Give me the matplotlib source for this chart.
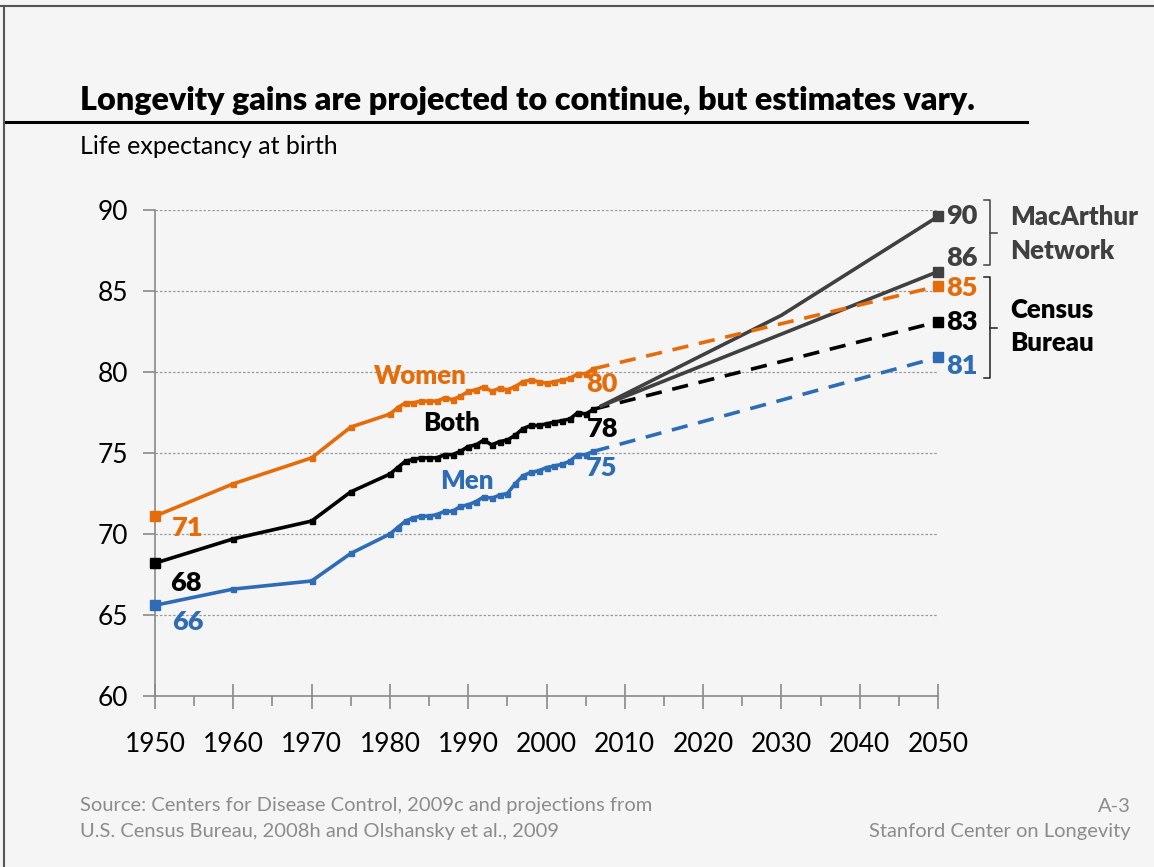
import matplotlib
matplotlib.use("Agg")
import matplotlib.pyplot as plt
from matplotlib.lines import Line2D
from matplotlib.ticker import MultipleLocator

plt.rcParams['font.family'] = ['Lato', 'DejaVu Sans']

# Historical life expectancy at birth (CDC)
years = [1950, 1960, 1970, 1975, 1980, 1981, 1982, 1983, 1984, 1985, 1986, 1987,
         1988, 1989, 1990, 1991, 1992, 1993, 1994, 1995, 1996, 1997, 1998, 1999,
         2000, 2001, 2002, 2003, 2004, 2005, 2006]
women = [71.1, 73.1, 74.7, 76.6, 77.4, 77.8, 78.1, 78.1, 78.2, 78.2, 78.2, 78.4,
         78.3, 78.5, 78.8, 78.9, 79.1, 78.8, 79.0, 78.9, 79.1, 79.4, 79.5, 79.4,
         79.3, 79.4, 79.5, 79.6, 79.9, 79.9, 80.2]
both = [68.2, 69.7, 70.8, 72.6, 73.7, 74.1, 74.5, 74.6, 74.7, 74.7, 74.7, 74.9,
        74.9, 75.1, 75.4, 75.5, 75.8, 75.5, 75.7, 75.8, 76.1, 76.5, 76.7, 76.7,
        76.8, 76.9, 77.0, 77.1, 77.5, 77.4, 77.7]
men = [65.6, 66.6, 67.1, 68.8, 70.0, 70.4, 70.8, 71.0, 71.1, 71.1, 71.2, 71.4,
       71.4, 71.7, 71.8, 72.0, 72.3, 72.2, 72.4, 72.5, 73.1, 73.6, 73.8, 73.9,
       74.1, 74.2, 74.3, 74.5, 74.9, 74.9, 75.1]

# Census Bureau projections
census_years = [2006, 2050]
census_women = [80.2, 85.3]
census_both = [77.7, 83.1]
census_men = [75.1, 80.9]

# MacArthur Network projections
mac_high_years = [2007, 2030, 2050]
mac_high = [77.9, 83.5, 89.6]
mac_low_years = [2007, 2050]
mac_low = [77.9, 86.2]

ORANGE = '#E46C0A'
BLUE = '#2E6CB5'
BLACK = '#000000'
DGRAY = '#404040'
BG = '#F5F5F5'
FOOT = '#8C8C8C'

W, H = 1154, 867
fig = plt.figure(figsize=(W / 100, H / 100), dpi=100, facecolor=BG)

def fx(px):
    return px / W

def fy(py):
    return 1 - py / H

ax = fig.add_axes([fx(155), fy(696), fx(938) - fx(155), fy(210) - fy(696)])
ax.set_facecolor(BG)
ax.set_xlim(1950, 2050)
ax.set_ylim(60, 90)

for s in ('top', 'right'):
    ax.spines[s].set_visible(False)
for s in ('left', 'bottom'):
    ax.spines[s].set_color('#8A8A8A')
    ax.spines[s].set_linewidth(1.2)

ax.set_xticks(range(1950, 2051, 10))
ax.xaxis.set_minor_locator(MultipleLocator(5))
ax.set_yticks(range(60, 91, 5))
ax.tick_params(axis='x', which='major', direction='inout', length=18, width=1.2,
               color='#8A8A8A', labelsize=19, pad=17)
ax.tick_params(axis='x', which='minor', direction='out', length=7, width=1.2,
               color='#8A8A8A')
ax.tick_params(axis='y', which='major', direction='out', length=9, width=1.2,
               color='#8A8A8A', labelsize=19, pad=10)

for v in range(65, 91, 5):
    ax.axhline(v, color='#9A9A9A', lw=0.9, ls=(0, (2, 1.5)), zorder=1)

lw = 2.6
dash = (0, (4.5, 3))

# projections
ax.plot(census_years, census_both, color=BLACK, lw=lw, ls=dash, zorder=3)
ax.plot(mac_high_years, mac_high, color=DGRAY, lw=lw, zorder=4)
ax.plot(mac_low_years, mac_low, color=DGRAY, lw=lw, zorder=4)
ax.plot(census_years, census_women, color=ORANGE, lw=lw, ls=dash, zorder=5)
ax.plot(census_years, census_men, color=BLUE, lw=lw, ls=dash, zorder=5)

# end markers at 2050
for yv, c in ((mac_high[-1], DGRAY), (mac_low[-1], DGRAY), (census_women[-1], ORANGE),
              (census_both[-1], BLACK), (census_men[-1], BLUE)):
    ax.plot([2050], [yv], marker='s', ms=6.5, color=c, ls='none', zorder=6, clip_on=False)

# historical series
for vals, c in ((women, ORANGE), (both, BLACK), (men, BLUE)):
    ax.plot(years, vals, color=c, lw=lw, marker='s', ms=3.6, zorder=6, clip_on=False)
    ax.plot([years[0]], [vals[0]], marker='s', ms=7, color=c, ls='none', zorder=7, clip_on=False)

# series labels
lab = dict(fontsize=18.5, fontweight='heavy', ha='left', va='center')
ax.text(1978.0, 79.75, 'Women', color=ORANGE, **lab)
ax.text(1984.3, 76.85, 'Both', color=BLACK, **lab)
ax.text(1986.4, 73.27, 'Men', color=BLUE, **lab)

val = dict(fontsize=19.5, fontweight='heavy', ha='left', va='center')
ax.text(1952.2, women[0] - 0.73, f'{women[0]:.0f}', color=ORANGE, **val)
ax.text(1951.9, both[0] - 1.2, f'{both[0]:.0f}', color=BLACK, **val)
ax.text(1952.2, men[0] - 1.03, f'{men[0]:.0f}', color=BLUE, **val)
ax.text(2005.0, women[-1] - 0.94, f'{women[-1]:.0f}', color=ORANGE, **val)
ax.text(2005.1, both[-1] - 1.2, f'{both[-1]:.0f}', color=BLACK, **val)
ax.text(2005.0, men[-1] - 1.03, f'{men[-1]:.0f}', color=BLUE, **val)

ax.text(2051.0, mac_high[-1], f'{mac_high[-1]:.0f}', color=DGRAY, **val)
ax.text(2051.0, mac_low[-1] + 0.84, f'{mac_low[-1]:.0f}', color=DGRAY, **val)
ax.text(2051.0, census_women[-1] - 0.1, f'{census_women[-1]:.0f}', color=ORANGE, **val)
ax.text(2051.0, census_both[-1], f'{census_both[-1]:.0f}', color=BLACK, **val)
ax.text(2051.0, census_men[-1] - 0.53, f'{census_men[-1]:.0f}', color=BLUE, **val)

# brackets grouping the projection sources
def bracket(top, bottom, color):
    x0, x1, x2 = fx(984), fx(990), fx(997)
    mid = (top + bottom) / 2
    fig.add_artist(Line2D([x0, x1, x1, x0], [fy(top), fy(top), fy(bottom), fy(bottom)],
                          color=color, lw=1.1))
    fig.add_artist(Line2D([x1, x2], [fy(mid), fy(mid)], color=color, lw=1.1))

bracket(200, 265, DGRAY)
bracket(277, 378, '#202020')

grp = dict(fontsize=18.5, fontweight='heavy', ha='left', va='center')
fig.text(fx(1010), fy(217), 'MacArthur', color=DGRAY, **grp)
fig.text(fx(1010), fy(251), 'Network', color=DGRAY, **grp)
fig.text(fx(1010), fy(310), 'Census', color=BLACK, **grp)
fig.text(fx(1010), fy(343), 'Bureau', color=BLACK, **grp)

# title block and frame
fig.text(fx(80), fy(100), 'Longevity gains are projected to continue, but estimates vary.',
         fontsize=23.2, fontweight='heavy', ha='left', va='center', color='black')
fig.add_artist(Line2D([fx(4), fx(1027)], [fy(122), fy(122)], color='black', lw=2.2))
fig.add_artist(Line2D([fx(0), fx(W)], [fy(6), fy(6)], color='#555555', lw=1.5))
fig.add_artist(Line2D([fx(4), fx(4)], [fy(6), fy(H)], color='#555555', lw=1.5))
fig.text(fx(80), fy(146), 'Life expectancy at birth', fontsize=18, ha='left', va='center',
         color='black')

# footer
foot = dict(fontsize=14.5, color=FOOT, va='center')
fig.text(fx(80), fy(806), 'Source: Centers for Disease Control, 2009c and projections from',
         ha='left', **foot)
fig.text(fx(80), fy(832), 'U.S. Census Bureau, 2008h and Olshansky et al., 2009', ha='left', **foot)
fig.text(fx(1131), fy(806), 'A-3', ha='right', **foot)
fig.text(fx(1131), fy(832), 'Stanford Center on Longevity', ha='right', **foot)

fig.savefig('out.png', dpi=100, facecolor=BG)
